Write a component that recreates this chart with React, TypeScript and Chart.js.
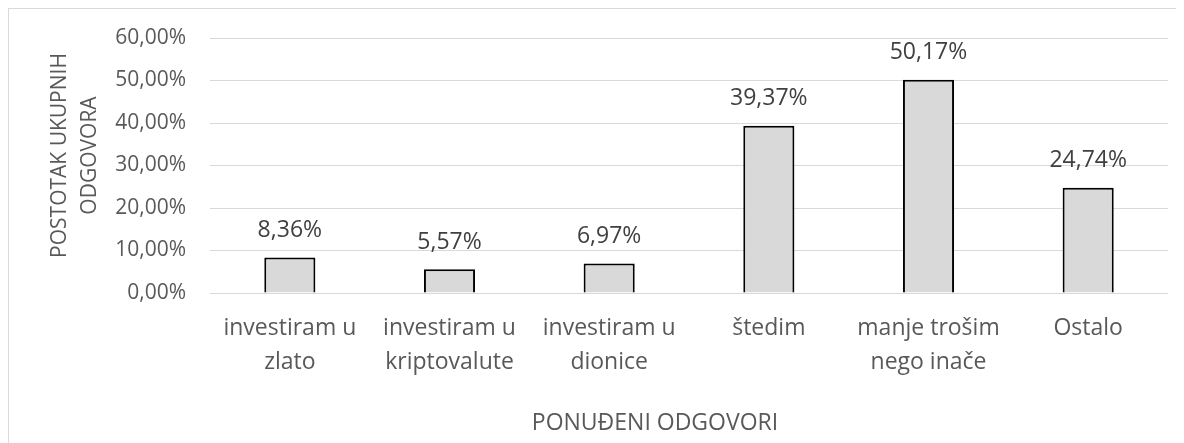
import React, { useEffect, useRef } from "react";
import { Chart, registerables } from "chart.js";

Chart.register(...registerables);

const categories: (string | string[])[] = [
  ["investiram u", "zlato"],
  ["investiram u", "kriptovalute"],
  ["investiram u", "dionice"],
  "štedim",
  ["manje trošim", "nego inače"],
  "Ostalo",
];
const values: number[] = [8.36, 5.57, 6.97, 39.37, 50.17, 24.74];
const yTitleLines: string[] = ["POSTOTAK UKUPNIH", "ODGOVORA"];
const xTitle = "PONUĐENI ODGOVORI";

const FONT = "'Open Sans', 'Noto Sans', sans-serif";
const fmt = (v: number) => v.toFixed(2).replace(".", ",") + "%";

const overlayPlugin = {
  id: "overlay",
  afterDatasetsDraw(chart: any) {
    const ctx = chart.ctx;
    const meta = chart.getDatasetMeta(0);
    ctx.save();
    ctx.fillStyle = "#404040";
    ctx.font = `23px ${FONT}`;
    ctx.textAlign = "center";
    ctx.textBaseline = "middle";
    meta.data.forEach((bar: any, i: number) => {
      ctx.fillText(fmt(values[i]), bar.x, bar.y - 27);
    });
    ctx.restore();
  },
  afterDraw(chart: any) {
    const ctx = chart.ctx;
    const area = chart.chartArea;
    ctx.save();
    ctx.fillStyle = "#595959";
    ctx.textAlign = "center";
    ctx.textBaseline = "middle";
    // y title
    ctx.font = `21px ${FONT}`;
    const cy = (area.top + area.bottom) / 2 - 10;
    yTitleLines.forEach((line, i) => {
      ctx.save();
      ctx.translate(51 + i * 30, cy);
      ctx.rotate(-Math.PI / 2);
      ctx.fillText(line, 0, 0);
      ctx.restore();
    });
    // x title
    ctx.font = `23px ${FONT}`;
    ctx.fillText(xTitle, area.left + 445, area.bottom + 130);
    ctx.restore();
  },
};

export default function App() {
  const ref = useRef<HTMLCanvasElement | null>(null);
  useEffect(() => {
    if (!ref.current) return;
    const chart = new Chart(ref.current, {
      type: "bar",
      data: {
        labels: categories,
        datasets: [
          {
            data: values,
            backgroundColor: "#d9d9d9",
            borderColor: "#000000",
            borderWidth: 2,
            categoryPercentage: 1,
            barPercentage: 0.32,
          },
        ],
      },
      options: {
        animation: false,
        responsive: false,
        maintainAspectRatio: false,
        layout: { padding: { left: 0, right: 15, top: 29, bottom: 0 } },
        plugins: {
          legend: { display: false },
          tooltip: { enabled: false },
          title: { display: false },
        },
        scales: {
          x: {
            grid: { display: false, drawTicks: false },
            border: { display: false },
            ticks: {
              color: "#595959",
              font: { family: FONT, size: 23, lineHeight: 1.48 },
              padding: 18,
              maxRotation: 0,
              autoSkip: false,
            },
            afterFit: (scale: any) => {
              scale.height = 156;
              scale.paddingLeft = 0;
              scale.paddingRight = 0;
            },
          },
          y: {
            min: 0,
            max: 60,
            grid: { color: "#d9d9d9", lineWidth: 1, drawTicks: false },
            border: { display: false },
            ticks: {
              stepSize: 10,
              color: "#595959",
              font: { family: FONT, size: 21 },
              padding: 24,
              callback: (v: any) => fmt(Number(v)),
            },
            afterFit: (scale: any) => {
              scale.width = 201;
              scale.paddingTop = 0;
              scale.paddingBottom = 0;
            },
          },
        },
      },
      plugins: [overlayPlugin],
    });
    return () => chart.destroy();
  }, []);
  return (
    <div
      style={{
        width: 1174,
        height: 445,
        border: "1px solid #d9d9d9",
        background: "#fff",
      }}
    >
      <canvas ref={ref} width={1174} height={440} style={{ display: "block" }} />
    </div>
  );
}
